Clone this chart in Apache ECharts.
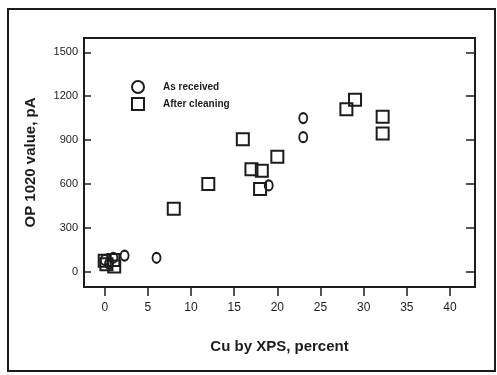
<!DOCTYPE html>
<html>
<head>
<meta charset="utf-8">
<style>
  html, body { margin: 0; padding: 0; background: #fff; }
  #chart { width: 497px; height: 375px; }
</style>
<script src="https://cdn.jsdelivr.net/npm/echarts@6/dist/echarts.min.js"></script>
</head>
<body>
<div id="chart"></div>
<script>
// data
var seriesNames = ['As received', 'After cleaning']
var asReceived = [
  [0, 80], [0.5, 55], [1, 95], [2.3, 110], [6, 95],
  [19, 590], [23, 1050], [23, 920]
]
var afterCleaning = [
  [0, 75], [0.2, 50], [1, 80], [1.1, 35], [8, 430], [12, 600],
  [16, 905], [17, 700], [18.2, 690], [18, 565], [20, 785],
  [28, 1110], [29, 1175], [32.2, 1060], [32.2, 945]
]
var xTicks = [0, 5, 10, 15, 20, 25, 30, 35, 40]
var yTicks = [0, 300, 600, 900, 1200, 1500]

var ink = '#1c1c1c'
var font = 'Liberation Sans, Arial, sans-serif'

var chart = echarts.init(document.getElementById('chart'))
var option = {
  animation: false,
  backgroundColor: '#fff',
  graphic: [
    {
      type: 'rect',
      shape: { x: 8, y: 9, width: 487, height: 362 },
      style: { fill: 'none', stroke: ink, lineWidth: 2 },
      silent: true
    }
  ],
  grid: {
    left: 84,
    right: 22,
    top: 38,
    bottom: 88,
    show: true,
    borderColor: ink,
    borderWidth: 2,
    backgroundColor: 'transparent'
  },
  legend: {
    orient: 'vertical',
    left: 126,
    top: 75,
    itemWidth: 12,
    itemHeight: 12,
    itemGap: 3,
    data: seriesNames,
    textStyle: {
      fontFamily: font,
      fontSize: 10,
      fontWeight: 'bold',
      color: ink,
      padding: [0, 0, 0, 14]
    }
  },
  xAxis: {
    type: 'value',
    min: -2.4,
    max: 42.9,
    name: 'Cu by XPS, percent',
    nameLocation: 'middle',
    nameGap: 52,
    nameTextStyle: { fontFamily: font, fontSize: 15, fontWeight: 'bold', color: ink },
    axisLine: { show: false, onZero: false },
    splitLine: { show: false },
    axisTick: {
      show: true,
      inside: false,
      length: 9,
      customValues: xTicks,
      lineStyle: { color: ink, width: 1.5 }
    },
    axisLabel: {
      customValues: xTicks,
      margin: 15,
      fontFamily: font,
      fontSize: 12,
      color: ink
    }
  },
  yAxis: [
    {
      type: 'value',
      position: 'left',
      min: -105,
      max: 1598,
      name: 'OP 1020 value, pA',
      nameLocation: 'middle',
      nameGap: 46,
      nameTextStyle: { fontFamily: font, fontSize: 15, fontWeight: 'bold', color: ink },
      axisLine: { show: false, onZero: false },
      splitLine: { show: false },
      axisTick: {
        show: true,
        inside: true,
        length: 7,
        customValues: yTicks,
        lineStyle: { color: ink, width: 1.5 }
      },
      axisLabel: {
        customValues: yTicks,
        margin: 6,
        fontFamily: font,
        fontSize: 11,
        color: ink,
        formatter: function (v) { return String(v) }
      }
    },
    {
      type: 'value',
      position: 'right',
      min: -105,
      max: 1598,
      axisLine: { show: false, onZero: false },
      splitLine: { show: false },
      axisTick: {
        show: true,
        inside: true,
        length: 9,
        customValues: yTicks,
        lineStyle: { color: ink, width: 1.5 }
      },
      axisLabel: { show: false }
    }
  ],
  series: [
    {
      name: seriesNames[0],
      type: 'scatter',
      symbol: 'circle',
      symbolSize: [8, 10],
      data: asReceived,
      itemStyle: { color: 'rgba(255,255,255,0)', borderColor: ink, borderWidth: 2, opacity: 1 }
    },
    {
      name: seriesNames[1],
      type: 'scatter',
      symbol: 'rect',
      symbolSize: 12,
      data: afterCleaning,
      itemStyle: { color: 'rgba(255,255,255,0)', borderColor: ink, borderWidth: 2, opacity: 1 }
    }
  ]
}
chart.setOption(option)
</script>
</body>
</html>
